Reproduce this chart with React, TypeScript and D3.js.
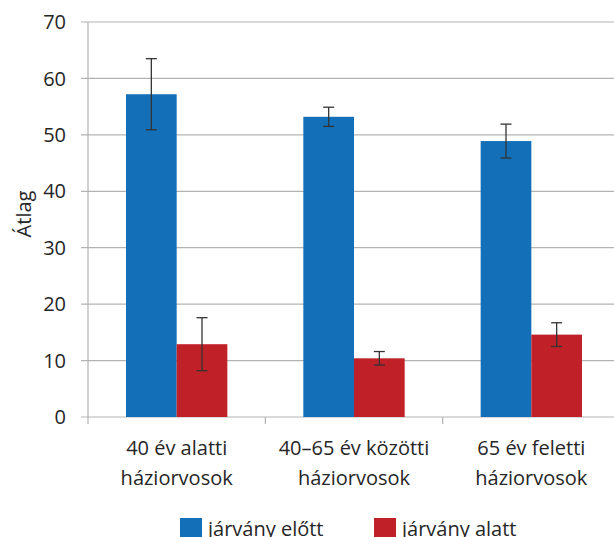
import React from "react";
import * as d3 from "d3";

const categories = [["40 év alatti", "háziorvosok"], ["40–65 év közötti", "háziorvosok"], ["65 év feletti", "háziorvosok"]];
const seriesNames = ["járvány előtt", "járvány alatt"];
const beforeValues = [57.2, 53.2, 48.9];
const beforeErrors = [6.3, 1.7, 3.0];
const duringValues = [12.9, 10.4, 14.6];
const duringErrors = [4.7, 1.2, 2.1];
const yTicks = [0, 10, 20, 30, 40, 50, 60, 70];
const colors = ["#136fb7", "#c02027"];

export default function App() {
  const W = 614, H = 537;
  const left = 88, right = 620, top = 22, bottom = 417;
  const x = d3.scaleBand<number>().domain([0, 1, 2]).range([left, right]).paddingInner(0).paddingOuter(0);
  const y = d3.scaleLinear().domain([0, 70]).range([bottom, top]);
  const inner = d3.scaleBand<number>().domain([0, 1]).range([0, x.bandwidth()]).paddingOuter(0.75).paddingInner(0);
  const series = [
    { vals: beforeValues, errs: beforeErrors },
    { vals: duringValues, errs: duringErrors },
  ];
  const font = "'Open Sans', sans-serif";
  const fs = 20;
  const textColor = "#262626";
  return (
    <svg width={W} height={H} style={{ position: "absolute", left: 0, top: 0, background: "#fff" }} fontFamily={font}>
      {yTicks.map((t) => (
        <g key={t}>
          <line x1={81} x2={W} y1={y(t)} y2={y(t)} stroke="#b3b3b3" strokeWidth={1.2} />
          <text x={66} y={y(t)} dy="0.36em" textAnchor="end" fontSize={fs} fill={textColor}>{t}</text>
        </g>
      ))}
      <line x1={left} x2={left} y1={top} y2={bottom + 7} stroke="#b3b3b3" strokeWidth={1.2} />
      {[1, 2].map((i) => (
        <line key={i} x1={x(i)!} x2={x(i)!} y1={bottom} y2={bottom + 7} stroke="#b3b3b3" strokeWidth={1.2} />
      ))}
      {series.map((s, si) =>
        s.vals.map((v, ci) => {
          const bx = x(ci)! + inner(si)!;
          const bw = inner.bandwidth();
          const cx = bx + bw / 2;
          return (
            <g key={`${si}-${ci}`}>
              <rect x={bx} y={y(v)} width={bw} height={bottom - y(v)} fill={colors[si]} />
              <line x1={cx} x2={cx} y1={y(v + s.errs[ci])} y2={y(v - s.errs[ci])} stroke="#333" strokeWidth={1.3} />
              <line x1={cx - 5.5} x2={cx + 5.5} y1={y(v + s.errs[ci])} y2={y(v + s.errs[ci])} stroke="#333" strokeWidth={1.3} />
              <line x1={cx - 5.5} x2={cx + 5.5} y1={y(v - s.errs[ci])} y2={y(v - s.errs[ci])} stroke="#333" strokeWidth={1.3} />
            </g>
          );
        })
      )}
      {categories.map((lines, ci) => (
        <text key={ci} x={x(ci)! + x.bandwidth() / 2} y={455} textAnchor="middle" fontSize={fs} fill={textColor}>
          {lines.map((l, li) => (
            <tspan key={li} x={x(ci)! + x.bandwidth() / 2} dy={li === 0 ? 0 : 30}>{l}</tspan>
          ))}
        </text>
      ))}
      <text transform={`translate(31,214) rotate(-90)`} textAnchor="middle" fontSize={fs} fill={textColor}>Átlag</text>
      {seriesNames.map((n, i) => {
        const lx = [180, 374][i];
        return (
          <g key={n}>
            <rect x={lx} y={518} width={22} height={22} fill={colors[i]} />
            <text x={lx + 28} y={536} fontSize={fs} fill={textColor}>{n}</text>
          </g>
        );
      })}
    </svg>
  );
}
